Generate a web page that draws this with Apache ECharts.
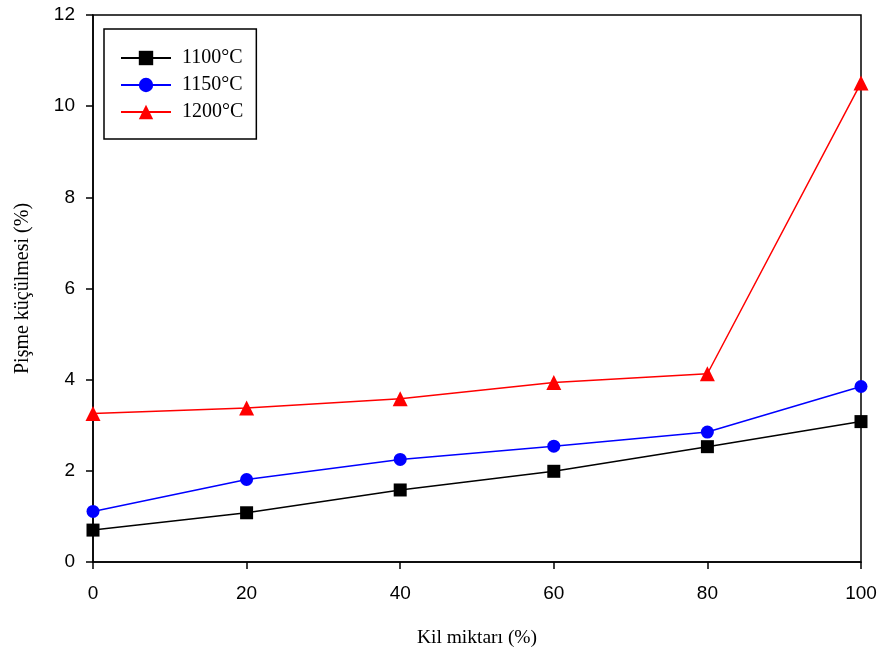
<!DOCTYPE html>
<html><head><meta charset="utf-8">
<script src="https://cdn.jsdelivr.net/npm/echarts@6/dist/echarts.min.js"></script>
<style>html,body{margin:0;padding:0;background:#fff}#c{width:884px;height:655px}</style>
</head><body><div id="c"></div>
<script>
const kil = [0, 20, 40, 60, 80, 100];
const s1100 = [0.70, 1.08, 1.58, 1.99, 2.53, 3.08];
const s1150 = [1.11, 1.81, 2.25, 2.54, 2.85, 3.85];
const s1200 = [3.26, 3.38, 3.58, 3.94, 4.13, 10.51];
const seriesNames = ['1100°C', '1150°C', '1200°C'];
const pair = a => kil.map((x, i) => [x, a[i]]);

const chart = echarts.init(document.getElementById('c'));
const mk = (name, data, color, symbol, size) => ({
  name, type: 'line', data: pair(data), symbol, symbolSize: size,
  lineStyle: {color, width: 1.5}, itemStyle: {color}, animation: false
});
chart.setOption({
  backgroundColor: '#fff',
  animation: false,
  grid: {left: 93, right: 23, top: 15, bottom: 93, show: true, borderColor: '#000', borderWidth: 1.5},
  legend: {
    left: 104, top: 29, orient: 'vertical',
    padding: [19, 13, 17, 16], itemGap: 7,
    borderColor: '#000', borderWidth: 1.5,
    itemWidth: 50, itemHeight: 18,
    textStyle: {fontFamily: 'Liberation Serif', fontSize: 20, color: '#000', padding: [0, 0, 0, 6]},
    data: seriesNames
  },
  xAxis: {
    type: 'value', min: 0, max: 100, interval: 20,
    name: 'Kil miktarı (%)', nameLocation: 'middle', nameGap: 66,
    nameTextStyle: {fontFamily: 'Liberation Serif', fontSize: 19.5, color: '#000'},
    axisLine: {lineStyle: {color: '#000', width: 1.5}},
    axisTick: {inside: false, length: 7, lineStyle: {color: '#000', width: 1.5}},
    axisLabel: {fontFamily: 'Liberation Sans', fontSize: 19, color: '#000', margin: 22},
    splitLine: {show: false}
  },
  yAxis: {
    type: 'value', min: 0, max: 12, interval: 2,
    name: 'Pişme küçülmesi (%)', nameLocation: 'middle', nameGap: 60,
    nameTextStyle: {fontFamily: 'Liberation Serif', fontSize: 20, color: '#000'},
    axisLine: {show: true, lineStyle: {color: '#000', width: 1.5}},
    axisTick: {show: true, inside: false, length: 7, lineStyle: {color: '#000', width: 1.5}},
    axisLabel: {fontFamily: 'Liberation Sans', fontSize: 19, color: '#000', margin: 18},
    splitLine: {show: false}
  },
  series: [
    mk(seriesNames[0], s1100, '#000000', 'rect', 13),
    mk(seriesNames[1], s1150, '#0000ff', 'circle', 13),
    mk(seriesNames[2], s1200, '#ff0000', 'triangle', 15)
  ]
});
</script></body></html>
